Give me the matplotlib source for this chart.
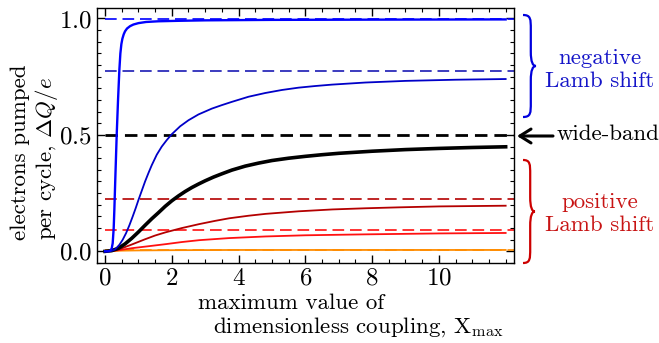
import matplotlib
matplotlib.use("Agg")
import matplotlib.pyplot as plt
from matplotlib.path import Path
from matplotlib.patches import PathPatch
from matplotlib.ticker import MultipleLocator, FixedLocator

plt.rcParams['font.family'] = ['cmr10', 'DejaVu Serif']
plt.rcParams['mathtext.fontset'] = 'cm'
plt.rcParams['axes.formatter.use_mathtext'] = True

# curves
blue_fast_x = [0, 0.1, 0.15, 0.2, 0.23, 0.26, 0.28, 0.31, 0.35, 0.39, 0.43, 0.46, 0.49, 0.52, 0.56, 0.6, 0.66, 0.75, 0.85, 1.0, 1.23, 1.6, 2.2, 3.0, 5.0, 8.0, 12.0]
blue_fast_y = [0, 0.0, 0.002, 0.012, 0.035, 0.1, 0.18, 0.32, 0.5, 0.65, 0.78, 0.85, 0.89, 0.913, 0.932, 0.945, 0.957, 0.967, 0.974, 0.98, 0.985, 0.988, 0.99, 0.992, 0.994, 0.995, 0.996]

blue_mid_x = [0, 0.2, 0.3, 0.43, 0.53, 0.63, 0.73, 0.83, 0.92, 1.0, 1.1, 1.2, 1.3, 1.4, 1.55, 1.7, 1.85, 2.0, 2.25, 2.5, 2.8, 3.2, 3.5, 3.8, 4.3, 4.8, 5.3, 5.8, 6.3, 6.8, 7.8, 9.0, 10.5, 12.0]
blue_mid_y = [0, 0.002, 0.008, 0.028, 0.05, 0.078, 0.112, 0.15, 0.186, 0.22, 0.26, 0.3, 0.336, 0.37, 0.415, 0.45, 0.478, 0.503, 0.537, 0.563, 0.588, 0.613, 0.628, 0.642, 0.664, 0.68, 0.693, 0.703, 0.71, 0.716, 0.725, 0.732, 0.737, 0.74]

black_x = [0, 0.2, 0.4, 0.6, 0.8, 1.0, 1.2, 1.4, 1.6, 1.8, 2.0, 2.2, 2.4, 2.6, 2.8, 3.0, 3.25, 3.5, 3.8, 4.2, 4.6, 5.0, 5.5, 6.0, 6.5, 7.0, 8.0, 9.0, 10.0, 11.0, 12.0]
black_y = [0, 0.003, 0.013, 0.032, 0.056, 0.083, 0.112, 0.14, 0.166, 0.193, 0.217, 0.238, 0.257, 0.274, 0.289, 0.303, 0.319, 0.333, 0.349, 0.366, 0.379, 0.39, 0.4, 0.408, 0.415, 0.421, 0.43, 0.437, 0.442, 0.446, 0.449]

darkred_x = [0, 0.3, 0.5, 0.83, 1.2, 1.5, 1.82, 2.3, 2.82, 3.3, 3.72, 4.3, 4.81, 5.8, 6.81, 7.8, 8.8, 10.0, 12.0]
darkred_y = [0, 0.005, 0.013, 0.031, 0.052, 0.068, 0.082, 0.1, 0.117, 0.131, 0.142, 0.153, 0.161, 0.172, 0.18, 0.185, 0.189, 0.193, 0.196]

red_x = [0, 0.3, 0.5, 0.83, 1.3, 1.82, 2.3, 2.82, 3.72, 4.81, 6.0, 7.8, 10.0, 12.0]
red_y = [0, 0.003, 0.007, 0.014, 0.022, 0.031, 0.04, 0.048, 0.057, 0.064, 0.069, 0.073, 0.077, 0.079]

orange_x = [0, 0.5, 1.0, 2.0, 4.0, 8.0, 12.0]
orange_y = [0, 0.003, 0.004, 0.005, 0.006, 0.006, 0.006]

# asymptotes (dashed)
limits = [0.997, 0.775, 0.5, 0.225, 0.09, 0.006]
limit_colors = ['#0000ff', '#1a1ab4', '#000000', '#b40000', '#ff1010', '#ff8c00']

xticks = [0, 2, 4, 6, 8, 10]
yticks = [0.0, 0.5, 1.0]

W, H = 659, 343
fig = plt.figure(figsize=(W / 100, H / 100), dpi=100)
ax = fig.add_axes([97 / W, 1 - 263 / H, (514 - 97) / W, (263 - 8) / H])
xlo, xhi = -0.24, 12.25
ax.set_xlim(xlo, xhi)
ax.set_ylim(-0.05, 1.045)

for lev, c in zip(limits, limit_colors):
    lw = 2.0 if c == '#000000' else 1.2
    dash = (4.5, 2.5) if c == '#000000' else (7, 3.5)
    ax.axhline(lev, xmin=(0 - xlo) / (xhi - xlo), color=c, lw=lw, dashes=dash)

ax.plot(orange_x, orange_y, color='#ff8c00', lw=1.3)
ax.plot(red_x, red_y, color='#ff1010', lw=1.3)
ax.plot(darkred_x, darkred_y, color='#b40000', lw=1.3)
ax.plot(black_x, black_y, color='black', lw=2.6)
ax.plot(blue_mid_x, blue_mid_y, color='#0000c8', lw=1.3)
ax.plot(blue_fast_x, blue_fast_y, color='#0000ff', lw=1.7)

ax.xaxis.set_major_locator(FixedLocator(xticks))
ax.xaxis.set_minor_locator(MultipleLocator(0.5))
ax.yaxis.set_major_locator(FixedLocator(yticks))
ax.yaxis.set_minor_locator(MultipleLocator(0.05))
ax.tick_params(which='both', direction='in', top=True, right=True, labelsize=18)
ax.tick_params(which='major', length=6, width=1)
ax.tick_params(which='minor', length=3, width=0.8)
for s in ax.spines.values():
    s.set_linewidth(1.0)


def px(x, y):
    return (x / W, 1 - y / H)


fig.text(*px(198, 303), 'maximum value of', fontsize=16.5, ha='left', va='center')
fig.text(*px(213, 327), r'dimensionless coupling, X$_\mathrm{max}$', fontsize=16.5, ha='left', va='center')
fig.text(*px(20, 240), 'electrons pumped', fontsize=16.5, rotation=90, ha='center', va='bottom')
fig.text(*px(47, 240), r'per cycle, $\Delta Q/e$', fontsize=16.5, rotation=90, ha='center', va='bottom')


def brace(xl, yt, yb, w, color):
    h = yb - yt
    ym = (yt + yb) / 2
    xs = xl + 0.6 * w
    xt = xl + w
    pts = [
        (xl, yt), (xs, yt), (xs, yt + 0.04 * h), (xs, yt + 0.14 * h),
        (xs, ym - 0.14 * h),
        (xs, ym - 0.04 * h), (xs + 0.15 * w, ym), (xt, ym),
        (xs + 0.15 * w, ym), (xs, ym + 0.04 * h), (xs, ym + 0.14 * h),
        (xs, yb - 0.14 * h),
        (xs, yb - 0.04 * h), (xs, yb), (xl, yb),
    ]
    codes = [Path.MOVETO, Path.CURVE4, Path.CURVE4, Path.CURVE4, Path.LINETO,
             Path.CURVE4, Path.CURVE4, Path.CURVE4,
             Path.CURVE4, Path.CURVE4, Path.CURVE4, Path.LINETO,
             Path.CURVE4, Path.CURVE4, Path.CURVE4]
    path = Path([px(*p) for p in pts], codes)
    fig.add_artist(PathPatch(path, fc='none', ec=color, lw=1.6, transform=fig.transFigure))


brace(523, 15, 117, 13, '#0000dd')
brace(523, 160, 263, 12, '#cc0000')

fig.text(*px(600, 58), 'negative', fontsize=16.5, color='#1414c8', ha='center', va='center')
fig.text(*px(600, 81), 'Lamb shift', fontsize=16.5, color='#1414c8', ha='center', va='center')
fig.text(*px(600, 202), 'positive', fontsize=16.5, color='#c81414', ha='center', va='center')
fig.text(*px(600, 225), 'Lamb shift', fontsize=16.5, color='#c81414', ha='center', va='center')
fig.text(*px(557, 134), 'wide-band', fontsize=16.5, color='black', ha='left', va='center')
ax.annotate('', xy=px(517, 136), xycoords='figure fraction', xytext=px(553, 136),
            textcoords='figure fraction',
            arrowprops=dict(arrowstyle='->,head_length=0.8,head_width=0.5', lw=2.2, color='black',
                            shrinkA=0, shrinkB=0))

fig.savefig('out.png', dpi=100)
